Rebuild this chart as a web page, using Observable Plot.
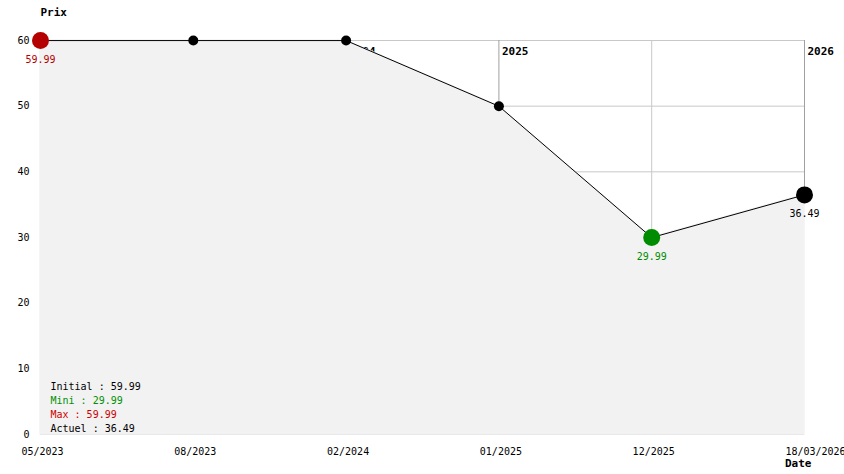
<!DOCTYPE html>
<html>
<head>
<meta charset="utf-8">
<script src="https://cdn.jsdelivr.net/npm/d3@7"></script>
<script src="https://cdn.jsdelivr.net/npm/@observablehq/plot@0.6"></script>
<style>
  html, body { margin: 0; padding: 0; background: #fff; }
  svg { display: block; }
</style>
</head>
<body>
<div id="chart"></div>
<script>
const dates = ["05/2023", "08/2023", "02/2024", "01/2025", "12/2025", "18/03/2026"];
const prices = [59.99, 59.99, 59.99, 49.99, 29.99, 36.49];
const yearLabels = ["2024", "2025", "2026"];
const yearIndex = [2, 3, 5];
const yTicks = [0, 10, 20, 30, 40, 50, 60];
const legendLabels = ["Initial : 59.99", "Mini : 29.99", "Max : 59.99", "Actuel : 36.49"];
const legendColors = ["#000000", "#009000", "#cc0000", "#000000"];
const highlightIndex = [0, 4, 5];
const highlightColors = ["#b40000", "#008c00", "#000000"];

const data = dates.map((d, i) => ({i, d, v: prices[i]}));
const years = yearLabels.map((label, k) => ({i: yearIndex[k], label}));
const highlights = highlightIndex.map((i, k) => ({i, v: prices[i], color: highlightColors[k], label: prices[i].toFixed(2)}));
const smallPts = data.filter(p => !highlightIndex.includes(p.i));
const verticals = data.map(p => ({i: p.i, v: p.v, year: yearIndex.includes(p.i)}));
const lastIdx = dates.length - 1;
const yMax = yTicks[yTicks.length - 1];

const font = "DejaVu Sans Mono";

const marks = [
  Plot.gridY(yTicks, {stroke: "#c8c8c8", strokeOpacity: 1}),
  Plot.ruleX(verticals, {x: "i", y1: () => yMax, y2: "v", stroke: d => d.year ? "#a0a0a0" : "#c8c8c8", strokeOpacity: 1}),
  Plot.text(years, {x: "i", y: () => yMax, text: "label", textAnchor: "start", dx: 3, dy: 11, fontWeight: "bold", fontSize: 11, fill: "#000"}),
  Plot.areaY(data, {x: "i", y: "v", fill: "#f2f2f2", stroke: "#f2f2f2", strokeWidth: 1.5}),
  Plot.line(data, {x: "i", y: "v", stroke: "#000", strokeWidth: 1}),
  Plot.dot(smallPts, {x: "i", y: "v", r: 5, fill: "#000", stroke: "none"}),
  Plot.dot(highlights, {x: "i", y: "v", r: 8.5, fill: "color", stroke: "none"}),
  Plot.text(highlights, {x: "i", y: "v", text: "label", fill: "color", dy: 19, fontSize: 10}),
  Plot.axisY(yTicks, {tickSize: 0, tickPadding: 11, fontSize: 10, label: null}),
  Plot.axisX(data.filter(p => p.i < lastIdx).map(p => p.i), {tickSize: 0, tickPadding: 13, dx: 2, fontSize: 10, tickFormat: i => dates[i], label: null}),
  Plot.axisX([lastIdx], {tickSize: 0, tickPadding: 13, dx: 11, fontSize: 10, tickFormat: i => dates[i], label: null}),
  Plot.text(["Prix"], {frameAnchor: "top-left", lineAnchor: "middle", dy: -28, textAnchor: "start", fontWeight: "bold", fontSize: 11}),
  Plot.text(["Date"], {frameAnchor: "bottom-right", lineAnchor: "middle", dx: 7, dy: 29, textAnchor: "end", fontWeight: "bold", fontSize: 11}),
  ...legendLabels.map((t, k) => Plot.text([t], {frameAnchor: "bottom-left", lineAnchor: "middle", dx: 10, dy: -48 + 14 * k, textAnchor: "start", fill: legendColors[k], fontSize: 10}))
];

const chart = Plot.plot({
  width: 844,
  height: 474,
  marginLeft: 40,
  marginRight: 40,
  marginTop: 40,
  marginBottom: 40,
  style: {fontFamily: font, fontSize: "10px", background: "#fff", overflow: "hidden"},
  x: {type: "linear", domain: [0, 5]},
  y: {domain: [0, 60]},
  marks
});
document.getElementById("chart").appendChild(chart);
</script>
</body>
</html>
